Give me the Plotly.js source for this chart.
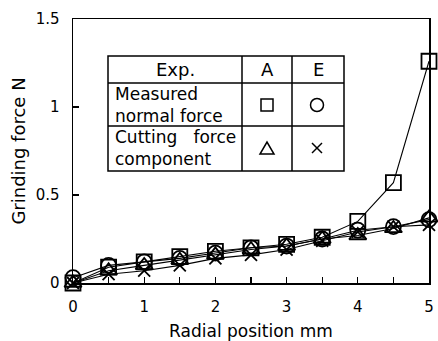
<!DOCTYPE html>
<html>
<head>
<meta charset="utf-8">
<script src="https://cdn.plot.ly/plotly-3.0.1.min.js"></script>
<style>html,body{margin:0;padding:0;background:#fff;}#chart{width:438px;height:341px;}</style>
</head>
<body>
<div id="chart"></div>
<script>
// Radial position (mm)
const radialPosition = [0, 0.5, 1, 1.5, 2, 2.5, 3, 3.5, 4, 4.5, 5];
// Measured normal force, Exp. A (square)
const normalForceA = [0.00, 0.09, 0.12, 0.15, 0.18, 0.20, 0.22, 0.26, 0.35, 0.57, 1.26];
// Measured normal force, Exp. E (circle)
const normalForceE = [0.03, 0.10, 0.12, 0.14, 0.17, 0.20, 0.21, 0.25, 0.30, 0.32, 0.36];
// Cutting force component, Exp. A (triangle)
const cuttingForceA = [0.00, 0.07, 0.10, 0.13, 0.16, 0.19, 0.21, 0.25, 0.27, 0.31, 0.37];
// Cutting force component, Exp. E (cross)
const cuttingForceE = [0.00, 0.05, 0.07, 0.10, 0.14, 0.16, 0.19, 0.24, 0.29, 0.32, 0.33];

const xTickVals = [0, 1, 2, 3, 4, 5];
const xTickText = ['0', '1', '2', '3', '4', '5'];
const yTickVals = [0, 0.5, 1, 1.5];
const yTickText = ['0', '0.5', '1', '1.5'];

const tableHeader = ['Exp.', 'A', 'E'];
const tableRows = ['Measured<br>normal force', 'Cutting\u00a0\u00a0\u00a0force<br>component'];

const FONT = 'DejaVu Sans, Verdana, sans-serif';
const L = 73, R = 9, T = 19, B = 58, W = 438, H = 341;
const pw = W - L - R, ph = H - T - B;
const px = x => (x - L) / pw;
const py = y => 1 - (y - T) / ph;

function series(y, symbol, size) {
  return {
    x: radialPosition, y: y, type: 'scatter', mode: 'lines+markers',
    line: {color: '#000', width: 1.1},
    marker: {symbol: symbol, size: size, color: '#000', line: {color: '#000', width: 1.8}},
    cliponaxis: false, showlegend: false, hoverinfo: 'skip'
  };
}

const data = [
  series(cuttingForceE, 'x-thin-open', 12),
  series(cuttingForceA, 'triangle-up-open', 15),
  series(normalForceE, 'circle-open', 15),
  series(normalForceA, 'square-open', 15)
];

// Legend table geometry (pixels)
const tx0 = 108, tx1 = 344, c1 = 242, c2 = 292;
const ty0 = 56, ty1 = 171, r1 = 83, r2 = 126;
const lineSt = {color: '#000', width: 1.5};
const P = {xref: 'paper', yref: 'paper'};
const shapes = [
  Object.assign({type: 'rect', x0: px(tx0), x1: px(tx1), y0: py(ty1), y1: py(ty0), line: lineSt, fillcolor: '#fff', layer: 'above'}, P),
  Object.assign({type: 'line', x0: px(c1), x1: px(c1), y0: py(ty1), y1: py(ty0), line: lineSt}, P),
  Object.assign({type: 'line', x0: px(c2), x1: px(c2), y0: py(ty1), y1: py(ty0), line: lineSt}, P),
  Object.assign({type: 'line', x0: px(tx0), x1: px(tx1), y0: py(r1), y1: py(r1), line: lineSt}, P),
  Object.assign({type: 'line', x0: px(tx0), x1: px(tx1), y0: py(r2), y1: py(r2), line: lineSt}, P),
  // symbols in table
  Object.assign({type: 'rect', x0: px(261), x1: px(273), y0: py(111), y1: py(99), line: lineSt}, P),
  Object.assign({type: 'circle', x0: px(310.5), x1: px(323.5), y0: py(111.5), y1: py(98.5), line: lineSt}, P),
  Object.assign({type: 'path', path: `M ${px(260)} ${py(154)} L ${px(274)} ${py(154)} L ${px(267)} ${py(142)} Z`, line: lineSt}, P),
  Object.assign({type: 'line', x0: px(312), x1: px(322), y0: py(143), y1: py(153), line: lineSt}, P),
  Object.assign({type: 'line', x0: px(312), x1: px(322), y0: py(153), y1: py(143), line: lineSt}, P)
];

function ann(text, x, y, xanchor, size) {
  return {text: text, xref: 'paper', yref: 'paper', x: px(x), y: py(y), xanchor: xanchor, yanchor: 'middle',
    align: 'left', showarrow: false, font: {family: FONT, size: size || 17, color: '#000'}};
}
const annotations = [
  ann(tableHeader[0], (tx0 + c1) / 2, 70, 'center', 18),
  ann(tableHeader[1], (c1 + c2) / 2, 70, 'center', 18),
  ann(tableHeader[2], (c2 + tx1) / 2, 70, 'center', 18),
  ann(tableRows[0], 113, 105, 'left'),
  ann(tableRows[1], 113, 148, 'left')
];

const layout = {
  width: W, height: H,
  margin: {l: L, r: R, t: T, b: B, pad: 0},
  paper_bgcolor: '#fff', plot_bgcolor: '#fff',
  font: {family: FONT, color: '#000', size: 15},
  xaxis: {
    range: [0, 5], tickvals: xTickVals, ticktext: xTickText,
    ticks: 'inside', ticklen: 6, tickwidth: 1.2, tickcolor: '#000',
    minor: {dtick: 0.5, tick0: 0, ticks: 'inside', ticklen: 6, tickwidth: 1.2, tickcolor: '#000'},
    showline: true, mirror: true, linecolor: '#000', linewidth: 1.5,
    showgrid: false, zeroline: false, ticklabelstandoff: 9,
    tickfont: {family: FONT, size: 15},
    title: {text: 'Radial position mm', font: {family: FONT, size: 17}, standoff: 14}
  },
  yaxis: {
    range: [0, 1.5], tickvals: yTickVals, ticktext: yTickText,
    ticks: 'inside', ticklen: 6, tickwidth: 1.2, tickcolor: '#000',
    showline: true, mirror: true, linecolor: '#000', linewidth: 1.5,
    showgrid: false, zeroline: false, ticklabelstandoff: 9,
    tickfont: {family: FONT, size: 15},
    title: {text: 'Grinding force N', font: {family: FONT, size: 18}, standoff: 5}
  },
  shapes: shapes,
  annotations: annotations,
  showlegend: false
};

Plotly.newPlot('chart', data, layout, {staticPlot: true, displayModeBar: false});
</script>
</body>
</html>
